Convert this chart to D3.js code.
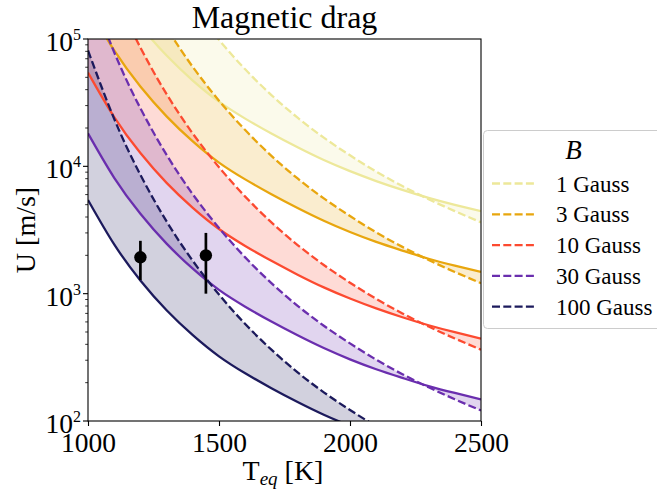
<!DOCTYPE html>
<html>
<head>
<meta charset="utf-8">
<script src="https://cdn.jsdelivr.net/npm/d3@7"></script>
<style>
  body { margin: 0; background: #fff; }
  svg { display: block; }
  text { font-family: "Liberation Serif", "DejaVu Serif", serif; fill: #000; }
</style>
</head>
<body>
<svg id="chart" width="657" height="491"></svg>
<script>
// equilibrium temperatures (K)
const temps = [1000, 1100, 1200, 1300, 1400, 1500, 1600, 1700, 1800, 1900, 2000, 2100, 2200, 2300, 2400, 2500];

const fieldLabels = ["1 Gauss", "3 Gauss", "10 Gauss", "30 Gauss", "100 Gauss"];
const fieldColors = ["#ede89a", "#e8a60e", "#fc4a30", "#6a2eae", "#1c1a5c"];

// solid curves, U in m/s
const solid1 = [544500, 243800, 127100, 74100, 47200, 32200, 23700, 18100, 14100, 11200, 9160, 7660, 6530, 5650, 4980, 4440];
const solid3 = [181500, 81300, 42400, 24700, 15700, 10700, 7900, 6040, 4710, 3740, 3050, 2550, 2180, 1880, 1660, 1480];
const solid10 = [54450, 24380, 12710, 7410, 4720, 3220, 2370, 1810, 1410, 1120, 916, 766, 653, 565, 498, 444];
const solid30 = [18150, 8130, 4240, 2470, 1570, 1070, 790, 604, 471, 374, 305, 255, 218, 188, 166, 148];
const solid100 = [5445, 2438, 1271, 741, 472, 322, 237, 181, 141, 112, 91.6, 76.6, 65.3, 56.5, 49.8, 44.4];

// dashed curves, U in m/s
const dashed1 = [8128000, 2360000, 857000, 369000, 180900, 98400, 57800, 36300, 24100, 16800, 12200, 9100, 7000, 5520, 4450, 3630];
const dashed3 = [2709000, 787000, 285700, 123000, 60300, 32800, 19270, 12100, 8030, 5600, 4070, 3030, 2330, 1840, 1480, 1210];
const dashed10 = [812800, 236000, 85700, 36900, 18090, 9840, 5780, 3630, 2410, 1680, 1220, 910, 700, 552, 445, 363];
const dashed30 = [270900, 78700, 28570, 12300, 6030, 3280, 1927, 1210, 803, 560, 407, 303, 233, 184, 148, 121];
const dashed100 = [81280, 23600, 8570, 3690, 1809, 984, 578, 363, 241, 168, 122, 91, 70, 55, 44.5, 36.3];

const solidSeries = [solid1, solid3, solid10, solid30, solid100];
const dashedSeries = [dashed1, dashed3, dashed10, dashed30, dashed100];

// observed points: T, U, lower, upper
const obsT = [1200, 1450];
const obsU = [1930, 2000];
const obsLow = [1280, 1000];
const obsHigh = [2600, 3000];

const xTicks = [1000, 1500, 2000, 2500];
const yTicks = [100, 1000, 10000, 100000];

const svg = d3.select("#chart");
const m = { left: 88, top: 39, right: 481, bottom: 421 };

const x = d3.scaleLinear().domain([1000, 2500]).range([m.left, m.right]);
const y = d3.scaleLog().domain([100, 100000]).range([m.bottom, m.top]);

svg.append("defs")
  .append("clipPath")
  .attr("id", "plotClip")
  .append("rect")
  .attr("x", m.left)
  .attr("y", m.top)
  .attr("width", m.right - m.left)
  .attr("height", m.bottom - m.top);

const plot = svg.append("g").attr("clip-path", "url(#plotClip)");

const rows = (i) => temps.map((t, k) => ({ t, s: solidSeries[i][k], d: dashedSeries[i][k] }));

// shaded bands between solid and dashed
const area = d3.area()
  .x((d) => x(d.t))
  .y0((d) => y(d.s))
  .y1((d) => y(d.d))
  .curve(d3.curveNatural);

fieldLabels.forEach((lab, i) => {
  plot.append("path")
    .attr("d", area(rows(i)))
    .attr("fill", fieldColors[i])
    .attr("fill-opacity", 0.2)
    .attr("stroke", "none");
});

const solidLine = d3.line().x((d) => x(d.t)).y((d) => y(d.s)).curve(d3.curveNatural);
const dashedLine = d3.line().x((d) => x(d.t)).y((d) => y(d.d)).curve(d3.curveNatural);

fieldLabels.forEach((lab, i) => {
  plot.append("path")
    .attr("d", solidLine(rows(i)))
    .attr("fill", "none")
    .attr("stroke", fieldColors[i])
    .attr("stroke-width", 2.3);
  plot.append("path")
    .attr("d", dashedLine(rows(i)))
    .attr("fill", "none")
    .attr("stroke", fieldColors[i])
    .attr("stroke-width", 2.3)
    .attr("stroke-dasharray", "8,3.3");
});

// error bars
obsT.forEach((t, i) => {
  plot.append("line")
    .attr("x1", x(t))
    .attr("x2", x(t))
    .attr("y1", y(obsLow[i]))
    .attr("y2", y(obsHigh[i]))
    .attr("stroke", "#000")
    .attr("stroke-width", 2.7);
  plot.append("circle")
    .attr("cx", x(t))
    .attr("cy", y(obsU[i]))
    .attr("r", 6.2)
    .attr("fill", "#000");
});

// frame
svg.append("rect")
  .attr("x", m.left)
  .attr("y", m.top)
  .attr("width", m.right - m.left)
  .attr("height", m.bottom - m.top)
  .attr("fill", "none")
  .attr("stroke", "#000")
  .attr("stroke-width", 1.1);

// x axis
const xAxis = svg.append("g")
  .attr("transform", `translate(0,${m.bottom})`)
  .call(d3.axisBottom(x).tickValues(xTicks).tickSize(5).tickFormat(d3.format("d")));
xAxis.select(".domain").remove();
xAxis.selectAll(".tick line").attr("stroke-width", 1.1);
xAxis.selectAll(".tick text")
  .attr("y", 30.7)
  .attr("dy", null)
  .style("font-size", "27.5px")
  .style("font-family", "'Liberation Serif', serif");

// y axis with minor ticks
const minor = [];
[100, 1000, 10000].forEach((dec) => {
  for (let k = 2; k <= 9; k++) minor.push(dec * k);
});
svg.append("g")
  .selectAll("line")
  .data(minor)
  .join("line")
  .attr("x1", m.left - 2.8)
  .attr("x2", m.left)
  .attr("y1", (d) => y(d))
  .attr("y2", (d) => y(d))
  .attr("stroke", "#000")
  .attr("stroke-width", 0.8);

svg.append("g")
  .selectAll("line")
  .data(yTicks)
  .join("line")
  .attr("x1", m.left - 5)
  .attr("x2", m.left)
  .attr("y1", (d) => y(d))
  .attr("y2", (d) => y(d))
  .attr("stroke", "#000")
  .attr("stroke-width", 1.1);

const yLab = svg.append("g")
  .selectAll("text")
  .data(yTicks)
  .join("text")
  .attr("x", 81)
  .attr("y", (d) => y(d) + 12)
  .attr("text-anchor", "end")
  .style("font-size", "27.5px");
yLab.append("tspan").text("10");
yLab.append("tspan")
  .attr("dy", -11)
  .style("font-size", "16px")
  .text((d) => Math.round(Math.log10(d)));

// axis labels and title
svg.append("text")
  .attr("x", 284.5)
  .attr("y", 28.3)
  .attr("text-anchor", "middle")
  .style("font-size", "32px")
  .text("Magnetic drag");

const xl = svg.append("text")
  .attr("x", 283)
  .attr("y", 480)
  .attr("text-anchor", "middle")
  .style("font-size", "28px");
xl.append("tspan").text("T");
xl.append("tspan").attr("dy", 5).style("font-size", "19px").style("font-style", "italic").text("eq");
xl.append("tspan").attr("dy", -5).text(" [K]");

svg.append("text")
  .attr("transform", "translate(35,230) rotate(-90)")
  .attr("text-anchor", "middle")
  .style("font-size", "28px")
  .text("U [m/s]");

// legend
const legend = svg.append("g");
legend.append("rect")
  .attr("x", 483.5)
  .attr("y", 130.5)
  .attr("width", 190)
  .attr("height", 198)
  .attr("rx", 4)
  .attr("fill", "#fff")
  .attr("fill-opacity", 0.8)
  .attr("stroke", "#cccccc")
  .attr("stroke-width", 1);

legend.append("text")
  .attr("x", 573.5)
  .attr("y", 159.3)
  .attr("text-anchor", "middle")
  .style("font-size", "27px")
  .style("font-style", "italic")
  .text("B");

fieldLabels.forEach((lab, i) => {
  const ly = 183.5 + i * 30.8;
  legend.append("line")
    .attr("x1", 492)
    .attr("x2", 534)
    .attr("y1", ly)
    .attr("y2", ly)
    .attr("stroke", fieldColors[i])
    .attr("stroke-width", 2.3)
    .attr("stroke-dasharray", "8,3.3");
  legend.append("text")
    .attr("x", 556)
    .attr("y", ly + 8)
    .style("font-size", "23px")
    .text(lab);
});
</script>
</body>
</html>
